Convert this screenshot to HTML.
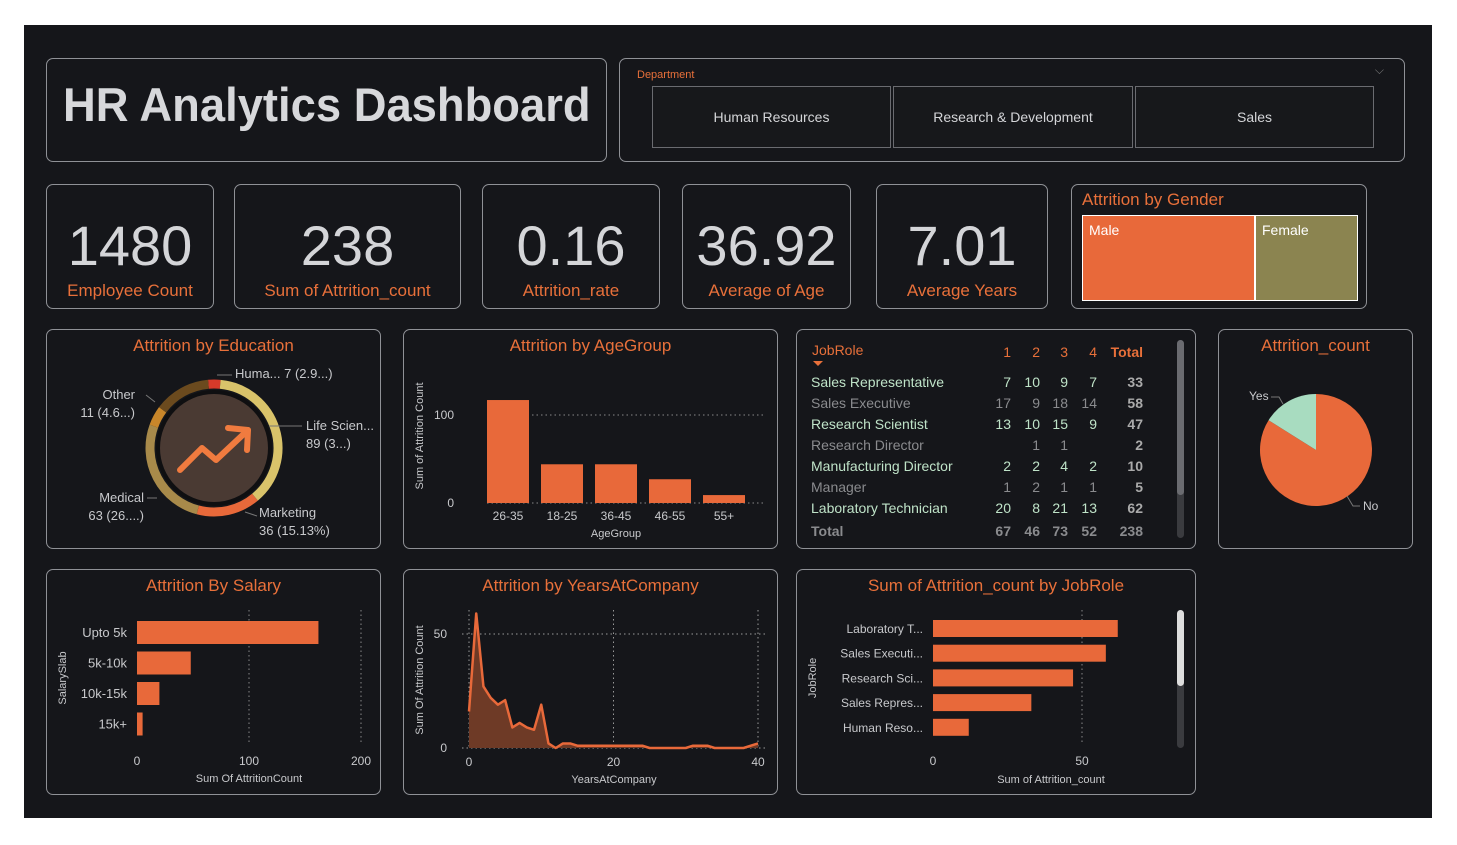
<!DOCTYPE html>
<html><head><meta charset="utf-8"><style>
body{margin:0;width:1457px;height:845px;background:#fff;position:relative;overflow:hidden;font-family:"Liberation Sans",sans-serif}
#bg{position:absolute;left:24px;top:25px;width:1408px;height:793px;background:#15161a}
.p{position:absolute;border:1.5px solid #8f9196;border-radius:7px;box-sizing:border-box}
.t{position:absolute;left:0;right:0;text-align:center;color:#e8703a;font-size:17px}
.kv{position:absolute;left:0;right:0;top:28px;text-align:center;color:#d4d5d8;font-size:56px;font-family:"Liberation Sans Narrow","Liberation Sans",sans-serif}
.kl{position:absolute;left:0;right:0;bottom:7px;text-align:center;color:#e8703a;font-size:17px}
svg{position:absolute;left:0;top:0}
.slc{position:absolute;top:27px;height:62px;border:1.5px solid #6a6b70;box-sizing:border-box;background:#17181b;color:#d4d5d8;font-size:14px;display:flex;align-items:center;justify-content:center}
table{border-collapse:collapse;font-size:14px;table-layout:fixed}
td{padding:0}
</style></head><body>
<div id="bg"></div>

<div class="p" style="left:46px;top:58px;width:561px;height:104px">
<div style="position:absolute;left:16px;top:18px;color:#d7d8db;font-size:47px;font-weight:bold;white-space:nowrap;transform:scaleX(0.965);transform-origin:left">HR Analytics Dashboard</div></div>

<div class="p" style="left:619px;top:58px;width:786px;height:104px">
<div style="position:absolute;left:17px;top:10px;color:#e8703a;font-size:11px">Department</div>
<div style="position:absolute;right:20px;top:4px;color:#777;font-size:12px">⌵</div>
<div class="slc" style="left:32px;width:239px">Human Resources</div>
<div class="slc" style="left:273px;width:240px">Research &amp; Development</div>
<div class="slc" style="left:515px;width:239px">Sales</div>
</div>

<div class="p" style="left:46px;top:184px;width:168px;height:125px"><div class="kv">1480</div><div class="kl">Employee Count</div></div>
<div class="p" style="left:234px;top:184px;width:227px;height:125px"><div class="kv">238</div><div class="kl">Sum of Attrition_count</div></div>
<div class="p" style="left:482px;top:184px;width:178px;height:125px"><div class="kv">0.16</div><div class="kl">Attrition_rate</div></div>
<div class="p" style="left:682px;top:184px;width:169px;height:125px"><div class="kv">36.92</div><div class="kl">Average of Age</div></div>
<div class="p" style="left:876px;top:184px;width:172px;height:125px"><div class="kv">7.01</div><div class="kl">Average Years</div></div>

<div class="p" style="left:1071px;top:184px;width:296px;height:125px">
<div style="position:absolute;left:10px;top:5px;color:#e8703a;font-size:17px">Attrition by Gender</div>
<div style="position:absolute;left:10px;top:30px;width:276px;height:86px;background:#fff">
<div style="position:absolute;left:1px;top:1px;width:171px;height:84px;background:#e8693a;color:#fff;font-size:14px;padding:6px;box-sizing:border-box">Male</div>
<div style="position:absolute;left:174px;top:1px;width:101px;height:84px;background:#8b8450;color:#fff;font-size:14px;padding:6px;box-sizing:border-box">Female</div></div></div>

<div class="p" style="left:46px;top:329px;width:335px;height:220px">
<div class="t" style="top:6px">Attrition by Education</div>
<svg id="edu" width="335" height="220"></svg></div>

<div class="p" style="left:403px;top:329px;width:375px;height:220px">
<div class="t" style="top:6px">Attrition by AgeGroup</div>
<svg id="age" width="375" height="220"></svg></div>

<div class="p" style="left:796px;top:329px;width:400px;height:220px">
<div style="position:absolute;left:15px;top:12px;color:#e8703a;font-size:14px">JobRole</div>
<div style="position:absolute;left:16px;top:31px;width:0;height:0;border-left:5px solid transparent;border-right:5px solid transparent;border-top:5px solid #e8703a"></div>
<div style="position:absolute;left:380px;top:10px;width:7px;height:198px;background:#3a3b3f;border-radius:4px"><div style="width:7px;height:155px;background:#6a6b70;border-radius:4px"></div></div>
<table id="mt" style="position:absolute;left:14px;top:11px;width:332px"></table></div>

<div class="p" style="left:1218px;top:329px;width:195px;height:220px">
<div class="t" style="top:6px">Attrition_count</div>
<svg id="pie" width="195" height="220"></svg></div>

<div class="p" style="left:46px;top:569px;width:335px;height:226px">
<div class="t" style="top:6px">Attrition By Salary</div>
<svg id="sal" width="335" height="226"></svg></div>

<div class="p" style="left:403px;top:569px;width:375px;height:226px">
<div class="t" style="top:6px">Attrition by YearsAtCompany</div>
<svg id="yrs" width="375" height="226"></svg></div>

<div class="p" style="left:796px;top:569px;width:400px;height:226px">
<div class="t" style="top:6px">Sum of Attrition_count by JobRole</div>
<div style="position:absolute;left:380px;top:40px;width:7px;height:138px;background:#3a3b3f;border-radius:4px"><div style="width:7px;height:76px;background:#ddd;border-radius:4px"></div></div>
<svg id="job" width="400" height="226"></svg></div>

<script>
const NS='http://www.w3.org/2000/svg';
function el(p,t,a,txt){const e=document.createElementNS(NS,t);for(const k in a)e.setAttribute(k,a[k]);if(txt!==undefined)e.textContent=txt;p.appendChild(e);return e;}
const OR='#e8693a',TX='#c8c9cc';

const eduCats=['Huma... 7 (2.9...)','Life Scien...','Marketing','Medical','Other','Technical Degree'];
const eduVals=[7,89,36,63,11,32];
const eduCols=['#d63a2a','#d9c36a','#e8693a','#a88a4a','#c8862a','#6b4a1e'];
(function(){const s=document.getElementById('edu');const cx=167,cy=118,r=64;
const tot=eduVals.reduce((a,b)=>a+b,0);let a0=-5*Math.PI/180;
eduVals.forEach((v,i)=>{const a1=a0+v/tot*2*Math.PI;
const p=(a)=>[cx+r*Math.sin(a),cy-r*Math.cos(a)];const [x0,y0]=p(a0),[x1,y1]=p(a1);
const e=el(s,'path',{d:`M${x0},${y0}A${r},${r} 0 ${a1-a0>Math.PI?1:0} 1 ${x1},${y1}`,fill:'none',stroke:eduCols[i],'stroke-width':9});
a0=a1;});
el(s,'circle',{cx,cy,r:58,fill:'#0f0f11'});
el(s,'circle',{cx,cy,r:54,fill:'#4a3a33'});
const ic=el(s,'polyline',{points:`${cx-34},${cy+22} ${cx-12},${cy} ${cx+2},${cy+12} ${cx+34},${cy-18}`,fill:'none',stroke:'#f07b3f','stroke-width':6,'stroke-linecap':'round','stroke-linejoin':'round'});

el(s,'polyline',{points:`${cx+14},${cy-20} ${cx+34},${cy-18} ${cx+33},${cy+2}`,fill:'none',stroke:'#f07b3f','stroke-width':6,'stroke-linecap':'round','stroke-linejoin':'round'});
const L=[[188,48,'Huma... 7 (2.9...)',null],[259,100,'Life Scien...','89 (3...)'],[212,187,'Marketing','36 (15.13%)'],[97,172,'Medical','63 (26....)'],[88,69,'Other','11 (4.6...)']];
L.forEach((l,i)=>{const anc=(i>=3)?'end':'start';const t=el(s,'text',{x:l[0],y:l[1],fill:TX,'font-size':13,'text-anchor':anc},l[2]);if(l[3])el(s,'text',{x:l[0],y:l[1]+18,fill:TX,'font-size':13,'text-anchor':anc},l[3]);});
[[170,45,185,45],[222,96,255,96],[198,182,210,186],[110,168,100,168],[99,65,108,72]].forEach(q=>el(s,'polyline',{points:`${q[0]},${q[1]} ${q[2]},${q[3]}`,stroke:'#777',fill:'none'}));
})();

const ageCats=['26-35','18-25','36-45','46-55','55+'];
const ageVals=[117,44,44,27,9];
const ageTicks=[0,100];
(function(){const s=document.getElementById('age');const y0=173,k=0.88,x0=83,step=54;
const Y=v=>y0-v*k;
ageTicks.forEach(t=>{el(s,'line',{x1:83,x2:362,y1:Y(t),y2:Y(t),stroke:'#888','stroke-dasharray':'1.5 3'});el(s,'text',{x:50,y:Y(t)+4,fill:TX,'font-size':12,'text-anchor':'end'},t);});
ageVals.forEach((v,i)=>{const x=x0+i*step;const r=el(s,'rect',{x,y:Y(v),width:42,height:v*k,fill:OR});
el(s,'text',{x:x+21,y:190,fill:TX,'font-size':12,'text-anchor':'middle'},ageCats[i]);});
el(s,'text',{x:212,y:207,fill:TX,'font-size':11,'text-anchor':'middle'},'AgeGroup');
el(s,'text',{x:19,y:106,fill:TX,'font-size':11,'text-anchor':'middle',transform:'rotate(-90 19 106)'},'Sum of Attrition Count');
})();

const roles=['Sales Representative','Sales Executive','Research Scientist','Research Director','Manufacturing Director','Manager','Laboratory Technician'];
const c1=[7,17,13,'',2,1,20],c2=[10,9,10,1,2,2,8],c3=[9,18,15,1,4,1,21],c4=[7,14,9,'',2,1,13];
const colTotals=[67,46,73,52,238];
(function(){const t=document.getElementById('mt');
const w=[176,24,29,28,29,46];
let h='<colgroup>'+w.map(x=>`<col style="width:${x}px">`).join('')+'</colgroup>';
h+='<tr style="height:21px;color:#e8703a"><td></td><td style="text-align:right">1</td><td style="text-align:right">2</td><td style="text-align:right">3</td><td style="text-align:right">4</td><td style="text-align:right;font-weight:bold">Total</td></tr><tr style="height:9px"><td></td></tr>';
roles.forEach((r,i)=>{const col=i%2?'#8a8b8e':'#bfe3c8';const vals=[c1[i],c2[i],c3[i],c4[i]];const tot=vals.reduce((a,b)=>a+(+b||0),0);
h+=`<tr style="height:21px;color:${col}"><td style="color:${col};white-space:nowrap">${r}</td>`+vals.map(v=>`<td style="text-align:right">${v}</td>`).join('')+`<td style="text-align:right;font-weight:bold;color:#aaa">${tot}</td></tr>`;});
h+=`<tr style="height:26px;color:#8a8b8e;font-weight:bold"><td>Total</td>`+colTotals.map(v=>`<td style="text-align:right">${v}</td>`).join('')+`</tr>`;
t.innerHTML=h;})();

const pieCats=['Yes','No'];
const pieVals=[238,1242];
(function(){const s=document.getElementById('pie');const cx=97,cy=120,r=56;const tot=pieVals[0]+pieVals[1];
const ay=pieVals[0]/tot*2*Math.PI;const px=cx-r*Math.sin(ay),py=cy-r*Math.cos(ay);
const no=el(s,'path',{d:`M${cx},${cy}L${cx},${cy-r}A${r},${r} 0 1 1 ${px},${py}Z`,fill:OR});
const ye=el(s,'path',{d:`M${cx},${cy}L${px},${py}A${r},${r} 0 0 1 ${cx},${cy-r}Z`,fill:'#a8dcc0'});
el(s,'text',{x:30,y:70,fill:TX,'font-size':12},'Yes');el(s,'polyline',{points:'52,67 60,67 64,74',fill:'none',stroke:'#777'});
el(s,'text',{x:144,y:180,fill:TX,'font-size':12},'No');el(s,'polyline',{points:'128,166 134,176 141,176',fill:'none',stroke:'#777'});})();

const salCats=['Upto 5k','5k-10k','10k-15k','15k+'];
const salVals=[162,48,20,5];
const salTicks=[0,100,200];
(function(){const s=document.getElementById('sal');const x0=90,k=1.12;const X=v=>x0+v*k;
salTicks.forEach(t=>{if(t>0)el(s,'line',{x1:X(t),x2:X(t),y1:40,y2:172,stroke:'#888','stroke-dasharray':'1.5 3'});el(s,'text',{x:X(t),y:195,fill:TX,'font-size':12,'text-anchor':'middle'},t);});
salVals.forEach((v,i)=>{const y=51+i*30.5;const r=el(s,'rect',{x:x0,y,width:v*k,height:23,fill:OR});
el(s,'text',{x:80,y:y+16,fill:TX,'font-size':13,'text-anchor':'end'},salCats[i]);});
el(s,'text',{x:202,y:212,fill:TX,'font-size':11,'text-anchor':'middle'},'Sum Of AttritionCount');
el(s,'text',{x:19,y:108,fill:TX,'font-size':11,'text-anchor':'middle',transform:'rotate(-90 19 108)'},'SalarySlab');})();

const yrsX=[0,1,2,3,4,5,6,7,8,9,10,11,12,13,14,15,16,17,18,19,20,21,22,23,24,25,26,27,28,29,30,31,32,33,34,35,36,37,38,39,40];
const yrsVals=[16,59,27,22,19,21,9,11,9,8,19,2,0,2,2,1,1,1,1,1,1,1,1,1,1,0,0,0,0,0,0,1,1,1,0,0,0,0,0,1,2];
const yrsXTicks=[0,20,40];const yrsYTicks=[0,50];
(function(){const s=document.getElementById('yrs');const x0=65,kx=7.225,y0=178,ky=2.28;const X=v=>x0+v*kx,Y=v=>y0-v*ky;
yrsYTicks.forEach(t=>{el(s,'line',{x1:58,x2:362,y1:Y(t),y2:Y(t),stroke:'#999','stroke-dasharray':'1.5 3'});el(s,'text',{x:43,y:Y(t)+4,fill:TX,'font-size':12,'text-anchor':'end'},t);});
yrsXTicks.forEach(t=>{el(s,'line',{x1:X(t),x2:X(t),y1:40,y2:178,stroke:'#999','stroke-dasharray':'1.5 3'});el(s,'text',{x:X(t),y:196,fill:TX,'font-size':12,'text-anchor':'middle'},t);});
const pts=yrsX.map((x,i)=>X(x)+','+Y(yrsVals[i])).join(' ');
const a=el(s,'polygon',{points:`${X(yrsX[0])},${y0} ${pts} ${X(yrsX[yrsX.length-1])},${y0}`,fill:'#6e3a26'});
const l=el(s,'polyline',{points:pts,fill:'none',stroke:OR,'stroke-width':2.5,'stroke-linejoin':'round'});
el(s,'text',{x:210,y:213,fill:TX,'font-size':11,'text-anchor':'middle'},'YearsAtCompany');
el(s,'text',{x:19,y:110,fill:TX,'font-size':11,'text-anchor':'middle',transform:'rotate(-90 19 110)'},'Sum Of Attrition Count');})();

const jobCats=['Laboratory T...','Sales Executi...','Research Sci...','Sales Repres...','Human Reso...'];
const jobVals=[62,58,47,33,12];
const jobTicks=[0,50];
(function(){const s=document.getElementById('job');const x0=136,k=2.98;const X=v=>x0+v*k;
jobTicks.forEach(t=>{if(t>0)el(s,'line',{x1:X(t),x2:X(t),y1:40,y2:172,stroke:'#888','stroke-dasharray':'1.5 3'});el(s,'text',{x:X(t),y:195,fill:TX,'font-size':12,'text-anchor':'middle'},t);});
jobVals.forEach((v,i)=>{const y=50+i*24.7;const r=el(s,'rect',{x:x0,y,width:v*k,height:17,fill:OR});
el(s,'text',{x:126,y:y+13,fill:TX,'font-size':12,'text-anchor':'end'},jobCats[i]);});
el(s,'text',{x:254,y:213,fill:TX,'font-size':11,'text-anchor':'middle'},'Sum of Attrition_count');
el(s,'text',{x:19,y:108,fill:TX,'font-size':11,'text-anchor':'middle',transform:'rotate(-90 19 108)'},'JobRole');})();
</script>
</body></html>
